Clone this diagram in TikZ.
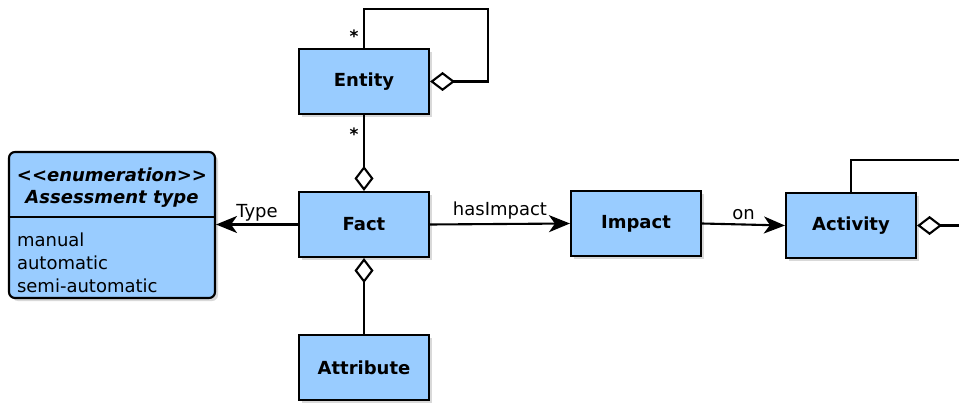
\documentclass[tikz,border=0pt]{standalone}
\usepackage{fontspec}
\setmainfont{DejaVu Sans}
\usetikzlibrary{arrows.meta,shadows}
\definecolor{umlblue}{RGB}{153,204,255}

\begin{document}
\begin{tikzpicture}[x=1pt,y=-1pt,line width=2.1pt,
  font=\fontsize{18}{23}\selectfont,
  cls/.style={draw,fill=umlblue,minimum width=130pt,minimum height=65pt,
    font=\fontsize{18}{23}\selectfont\bfseries,
    drop shadow={shadow xshift=3pt,shadow yshift=-3pt,opacity=0.3}},
  assoc/.style={-{Stealth[length=21pt,width=17pt,inset=6pt]}},
  aggr/.style={{Diamond[fill=white,length=25pt,width=19pt]}-},
  mult/.style={font=\fontsize{17}{20}\selectfont\bfseries}]
  \useasboundingbox (0,0) rectangle (959,404);

  % classes
  \node[cls] (entity) at (364,81.5) {Entity};
  \node[cls] (fact) at (364,224.5) {Fact};
  \node[cls] (attribute) at (364,367.5) {Attribute};
  \node[cls] (impact) at (636,223.5) {Impact};
  \node[cls] (activity) at (851,225.5) {Activity};

  % enumeration
  \node[draw,fill=umlblue,rounded corners=6pt,minimum width=206pt,minimum height=146pt,
    drop shadow={shadow xshift=3pt,shadow yshift=-3pt,opacity=0.3}] (assess) at (112,225) {};
  \draw (assess.west |- 0,217) coordinate (divl) -- (assess.east |- divl) coordinate (divr);
  \node[font=\fontsize{18}{23}\selectfont\bfseries\itshape] (stereo) at (112,175) {<{}<enumeration>{}>};
  \node[font=\fontsize{18}{23}\selectfont\bfseries\itshape] (aname) at (112,199) {Assessment type};
  \node[anchor=north west,align=left,inner sep=0pt] (values) at (16,232) {manual\\automatic\\semi-automatic};

  % loop points
  \coordinate (eloop) at (488,9);
  \coordinate (aloop) at (959,160);
  \coordinate (aright) at (959,225.5);

  % connectors
  \draw[aggr] (entity.east) -| (eloop) -| (entity.north);
  \node[mult] (star1) at (354,36) {*};
  \draw[aggr] (fact.north) -- (entity.south);
  \node[mult] (star2) at (354,134) {*};
  \draw[aggr] (fact.south) -- (attribute.north);
  \draw[assoc] (fact.west) -- (assess.east |- fact.west) node[midway,above=-1pt] (type) {Type};
  \draw[assoc] (fact.east) -- (impact.west) node[midway,above=0pt] (hasimpact) {hasImpact};
  \draw[assoc] (impact.east) -- (activity.west) node[midway,above=0pt] (on) {on};
  \draw (activity.north) |- (aloop);
  \draw[aggr] (activity.east) -- (aright);
\end{tikzpicture}
\end{document}
